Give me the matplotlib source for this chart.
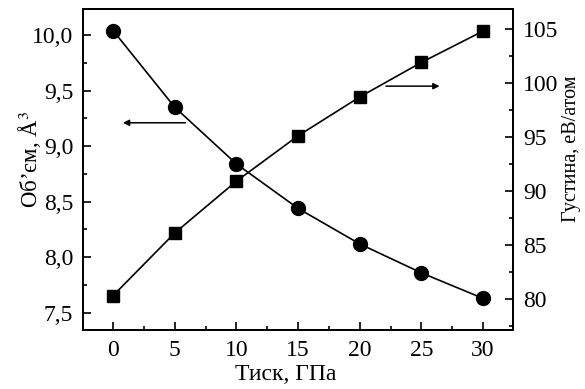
import numpy as np
import matplotlib
matplotlib.use('Agg')
import matplotlib.pyplot as plt
from matplotlib.ticker import MultipleLocator, FuncFormatter

plt.rcParams['font.family'] = ['Liberation Serif', 'DejaVu Serif']
plt.rcParams['mathtext.fontset'] = 'stix'
plt.rc('font', size=16)

# data
pressure = [0, 5, 10, 15, 20, 25, 30]
volume = [10.04, 9.35, 8.84, 8.44, 8.12, 7.86, 7.63]
density = [80.3, 86.1, 90.9, 95.1, 98.7, 101.9, 104.8]

xlabel = "Тиск, ГПа"
ylabel_left = "Об’єм, Å$^3$"
ylabel_right = "Густина, еВ/атом"


def comma(v, pos):
    return ("%.1f" % v).replace('.', ',')


fig = plt.figure(figsize=(5.85, 3.89), dpi=100)
ax = fig.add_axes([0.142, 0.152, 0.735, 0.825])
ax2 = ax.twinx()

ax.plot(pressure, volume, 'o-', color='black', lw=1.2, markersize=10)
ax2.plot(pressure, density, 's-', color='black', lw=1.2, markersize=8.5)

ax.set_xlim(-2.43, 32.43)
ax.set_ylim(7.347, 10.234)
ax2.set_ylim(77.13, 106.85)

ax.xaxis.set_major_locator(MultipleLocator(5))
ax.xaxis.set_minor_locator(MultipleLocator(2.5))
ax.yaxis.set_major_locator(MultipleLocator(0.5))
ax.yaxis.set_minor_locator(MultipleLocator(0.25))
ax.yaxis.set_major_formatter(FuncFormatter(comma))
ax2.yaxis.set_major_locator(MultipleLocator(5))
ax2.yaxis.set_minor_locator(MultipleLocator(2.5))

for a in (ax, ax2):
    a.tick_params(which='major', direction='in', length=6, width=1.2, pad=7, labelsize=17)
    a.tick_params(which='minor', direction='in', length=3, width=1.2)
    for s in a.spines.values():
        s.set_linewidth(1.4)
ax.tick_params(top=False, right=False, which='both')

ax.set_xlabel(xlabel, fontsize=17)
ax.xaxis.set_label_coords(0.472, -0.106)
ax.set_ylabel(ylabel_left, fontsize=16.5)
ax.yaxis.set_label_coords(-0.092, 0.53)
ax2.set_ylabel(ylabel_right, fontsize=14.5)
ax2.yaxis.set_label_coords(1.115, 0.565)

ax.annotate('', xy=(0.57, 9.21), xytext=(6.1, 9.21),
            arrowprops=dict(arrowstyle='-|>', color='black', lw=1.1, mutation_scale=9))
ax2.annotate('', xy=(26.7, 99.7), xytext=(21.9, 99.7),
             arrowprops=dict(arrowstyle='-|>', color='black', lw=1.1, mutation_scale=9))

fig.savefig('out.png', dpi=100)
